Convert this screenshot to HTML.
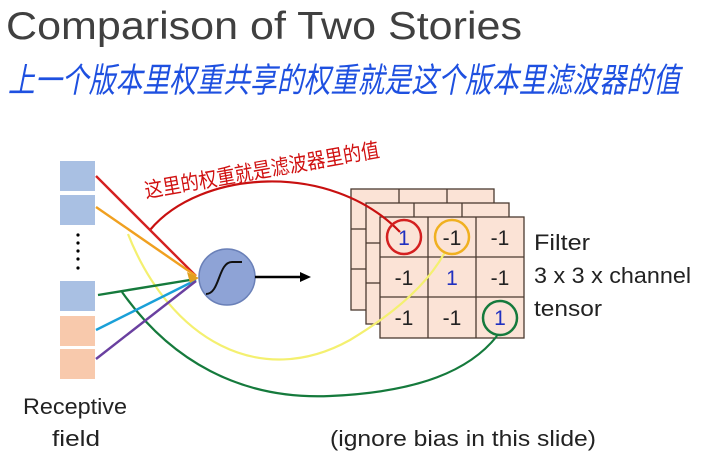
<!DOCTYPE html>
<html><head><meta charset="utf-8"><style>
body{margin:0;width:707px;height:457px;background:#fff;overflow:hidden;font-family:"Liberation Sans","Noto Sans CJK SC",sans-serif}
</style></head><body>
<svg width="707" height="457" xmlns="http://www.w3.org/2000/svg" style="position:absolute;left:0;top:0">
<text x="6" y="39" font-size="39" fill="#404040" font-family="Liberation Sans,sans-serif" textLength="516" lengthAdjust="spacingAndGlyphs">Comparison of Two Stories</text>
<text x="8" y="92" font-size="34" fill="#1e50e0" font-family="Noto Sans CJK SC,sans-serif" font-style="italic" textLength="672" lengthAdjust="spacingAndGlyphs">上一个版本里权重共享的权重就是这个版本里滤波器的值</text>
<text x="146" y="198" font-size="21" fill="#d01010" font-family="Noto Sans CJK SC,sans-serif" transform="rotate(-10 146 198)" textLength="238" lengthAdjust="spacingAndGlyphs">这里的权重就是滤波器里的值</text>
<g fill="#a9c0e3"><rect x="60" y="161" width="35" height="30"/><rect x="60" y="195" width="35" height="30"/><rect x="60" y="281" width="35" height="30"/></g>
<g fill="#f8c9ac"><rect x="60" y="316" width="35" height="30"/><rect x="60" y="349" width="35" height="30"/></g>
<g fill="#000"><circle cx="78" cy="235" r="1.6"/><circle cx="78" cy="243" r="1.6"/><circle cx="78" cy="251" r="1.6"/><circle cx="78" cy="259" r="1.6"/><circle cx="78" cy="268" r="1.6"/></g>
<g stroke="#4a3a30" stroke-width="1.3" fill="#fbe3d6">
<rect x="351" y="189" width="143" height="121"/>
<rect x="366" y="203" width="143" height="121"/>
<rect x="380" y="217" width="144" height="121"/>
<line x1="428" y1="217" x2="428" y2="338"/><line x1="476" y1="217" x2="476" y2="338"/>
<line x1="380" y1="257" x2="524" y2="257"/><line x1="380" y1="297" x2="524" y2="297"/>
<line x1="399" y1="189" x2="399" y2="203"/><line x1="447" y1="189" x2="447" y2="203"/>
<line x1="414" y1="203" x2="414" y2="217"/><line x1="462" y1="203" x2="462" y2="217"/>
<line x1="351" y1="229" x2="366" y2="229"/><line x1="351" y1="269" x2="366" y2="269"/>
<line x1="366" y1="243" x2="380" y2="243"/><line x1="366" y1="283" x2="380" y2="283"/>
</g>
<g font-size="21" text-anchor="middle" fill="#222">
<text x="404" y="245" fill="#2030c0">1</text><text x="452" y="245">-1</text><text x="500" y="245">-1</text>
<text x="404" y="285">-1</text><text x="452" y="285" fill="#2030c0">1</text><text x="500" y="285">-1</text>
<text x="404" y="325">-1</text><text x="452" y="325">-1</text><text x="500" y="325" fill="#2030c0">1</text>
</g>
<path d="M150 230 C200 170 330 160 400 232" stroke="#c81010" stroke-width="2.2" fill="none"/>
<path d="M128 234 C170 340 260 390 350 340 C400 310 430 280 445 252" stroke="#f4f070" stroke-width="2.2" fill="none"/>
<path d="M122 292 C170 360 240 400 330 396 C420 392 470 370 497 336" stroke="#157a3c" stroke-width="2.2" fill="none"/>
<circle cx="404" cy="237" r="17" stroke="#d42020" stroke-width="2.5" fill="none"/>
<circle cx="452" cy="237" r="17" stroke="#f0b020" stroke-width="2.5" fill="none"/>
<circle cx="500" cy="318" r="17" stroke="#157a3c" stroke-width="2.5" fill="none"/>
<g stroke-width="2.4" fill="none">
<line x1="96" y1="176" x2="196" y2="276" stroke="#d42020"/>
<line x1="96" y1="207" x2="196" y2="276" stroke="#f0a020"/>
<line x1="98" y1="295" x2="196" y2="279" stroke="#157a3c"/>
<line x1="96" y1="330" x2="196" y2="280" stroke="#1aa0d8"/>
<line x1="96" y1="359" x2="196" y2="281" stroke="#6a40a0"/>
</g>
<polygon points="199,278 187,272 190,283" fill="#e0a020"/>
<circle cx="227" cy="277" r="28" fill="#8ea3d6" stroke="#6a80b8" stroke-width="1.5"/>
<path d="M206 294 C220 294 218 262 232 262 L242 262" stroke="#111" stroke-width="2" fill="none"/>
<line x1="255" y1="277" x2="302" y2="277" stroke="#000" stroke-width="2.5"/>
<polygon points="311,277 300,272 300,282" fill="#000"/>
<g font-size="22" fill="#222">
<text x="534" y="250" textLength="56" lengthAdjust="spacingAndGlyphs">Filter</text>
<text x="534" y="283" textLength="157" lengthAdjust="spacingAndGlyphs">3 x 3 x channel</text>
<text x="534" y="316" textLength="68" lengthAdjust="spacingAndGlyphs">tensor</text>
<text x="23" y="414" textLength="104" lengthAdjust="spacingAndGlyphs">Receptive</text>
<text x="52" y="446" textLength="48" lengthAdjust="spacingAndGlyphs">field</text>
<text x="330" y="446" textLength="266" lengthAdjust="spacingAndGlyphs">(ignore bias in this slide)</text>
</g>
</svg>
</body></html>
